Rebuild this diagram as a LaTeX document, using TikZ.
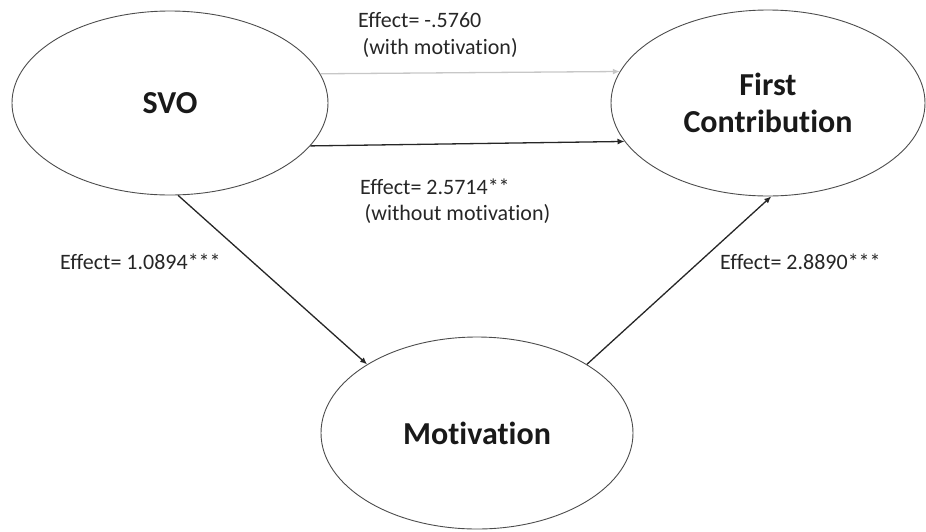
\documentclass[tikz,border=0pt]{standalone}
\usepackage{fontspec}
\setmainfont[Ligatures=NoCommon,RawFeature={-liga;-dlig}]{Carlito}
\usetikzlibrary{shapes.geometric,arrows.meta}
\begin{document}
\begin{tikzpicture}[x=1pt,y=-1pt,
  var/.style={draw=black!70,line width=0.9pt,ellipse,inner sep=0pt,font=\fontsize{32}{37}\selectfont\bfseries,text=black!90,align=center},
  lbl/.style={font=\fontsize{22}{26.5}\selectfont,text=black!85,align=left,inner sep=0pt,anchor=west},
  path/.style={draw=black!85,line width=1.3pt,-{Latex[length=7pt,width=6pt]}},
  lightpath/.style={draw=black!22,line width=1.3pt,-{Latex[length=7pt,width=6pt]}}]
\useasboundingbox (0,0) rectangle (926,531);
\node[var,minimum width=316pt,minimum height=184pt] (svo) at (170,103) {SVO};
\node[var,minimum width=314pt,minimum height=186pt] (fc) at (768,103) {First\\Contribution};
\node[var,minimum width=312pt,minimum height=192pt] (mot) at (477,433) {Motivation};
\draw[lightpath] (svo.11.7) -- (fc.168.9);
\draw[path] (svo.-17.7) -- (fc.-165);
\draw[path] (svo.-85) -- (mot.148);
\draw[path] (mot.32.5) -- (fc.-88.8);
\node[lbl] (l1) at (358,35) {Effect= -.5760\\\hspace{0.2em}(with motivation)};
\node[lbl] (l2) at (360,201) {Effect= 2.5714**\\\hspace{0.2em}(without motivation)};
\node[lbl] (l3) at (60,262) {Effect= 1.0894***};
\node[lbl] (l4) at (720,262) {Effect= 2.8890***};
\end{tikzpicture}
\end{document}
